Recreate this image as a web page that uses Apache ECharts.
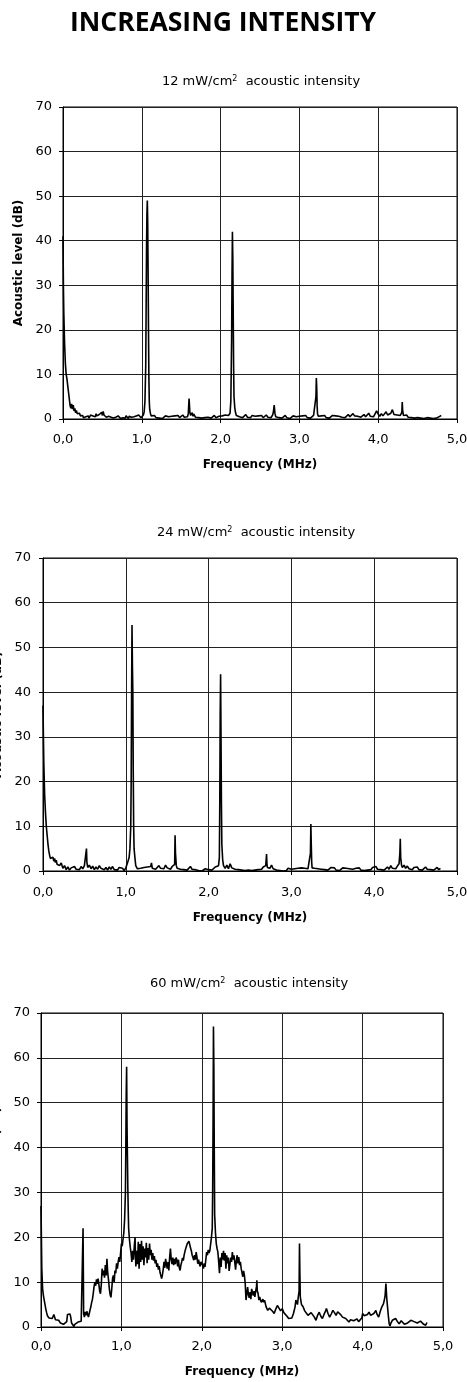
<!DOCTYPE html>
<html>
<head>
<meta charset="utf-8">
<script src="https://cdn.jsdelivr.net/npm/echarts@6/dist/echarts.min.js"></script>
<style>
html,body{margin:0;padding:0;background:#fff;}
#c{width:467px;height:1382px;}
</style>
</head>
<body>
<div id="c"></div>
<script>
// ---- DATA ----
const mainTitle = 'INCREASING INTENSITY';
const panelIntensity = ['12', '24', '60'];
const xTickLabels = ['0,0', '1,0', '2,0', '3,0', '4,0', '5,0'];
const yTicks = [0, 10, 20, 30, 40, 50, 60, 70];
const xAxisName = 'Frequency (MHz)';
const yAxisName = 'Acoustic level (dB)';

// [frequency MHz, acoustic level dB]
const spectrum12 = [
[0,41],[0.005,30],[0.01,24],[0.02,17],[0.03,12.5],[0.04,10],[0.05,9],[0.06,7.5],[0.07,6],[0.08,4.5],[0.09,3],[0.1,2.4],[0.11,3.4],[0.12,2.2],[0.13,3.1],[0.14,1.8],[0.15,2.4],[0.16,1.4],[0.17,1.9],[0.18,1.2],[0.19,1.6],[0.2,0.9],[0.21,1.3],[0.22,0.7],[0.23,0.9],[0.24,0.4],[0.25,0.8],[0.26,0.3],[0.27,0.6],[0.28,0.2],[0.29,0.5],[0.3,0.1],[0.31,0.4],[0.32,0.7],[0.33,0.2],[0.34,0.5],[0.35,0.9],[0.36,0.6],[0.37,1.1],[0.38,0.7],[0.39,0.4],[0.4,0.9],[0.41,0.5],[0.42,1.2],[0.43,0.7],[0.44,0.9],[0.45,0.4],[0.46,1.0],[0.47,0.6],[0.48,1.1],[0.49,1.5],[0.5,0.8],[0.51,1.7],[0.52,0.9],[0.53,0.6],[0.54,0.9],[0.55,0.4],[0.56,0.7],[0.57,0.2],[0.58,0.6],[0.59,0.3],[0.6,0.8],[0.61,0.4],[0.62,0.1],[0.63,0.5],[0.64,0.2],[0.65,0.6],[0.66,0.0],[0.67,0.4],[0.68,0.1],[0.69,0.5],[0.7,0.7],[0.71,0.3],[0.72,0.6],[0.73,0.1],[0.74,0.4],[0.75,0.0],[0.76,0.3],[0.77,0.1],[0.78,0.5],[0.79,0.2],[0.8,0.7],[0.81,0.3],[0.82,0.5],[0.83,0.1],[0.84,0.6],[0.85,0.3],[0.86,0.8],[0.87,0.4],[0.88,0.6],[0.89,0.2],[0.9,0.5],[0.91,0.8],[0.92,0.4],[0.93,0.7],[0.94,0.3],[0.95,0.6],[0.96,0.9],[0.97,0.5],[0.98,0.7],[0.99,0.3],[1.0,0.6],[1.01,0.4],[1.02,0.9],[1.03,1.6],[1.04,4],[1.05,12],[1.055,25],[1.06,38],[1.065,46],[1.07,49],[1.075,44],[1.08,33],[1.085,20],[1.09,9],[1.095,4],[1.1,2.2],[1.11,1.2],
[1.12,0.7],[1.14,0.4],[1.16,0.8],[1.18,0.3],[1.2,0.6],[1.22,0.2],[1.24,0.5],[1.26,0.1],[1.28,0.4],[1.3,0.7],[1.32,0.3],[1.34,0.5],[1.36,0.2],[1.38,0.6],[1.4,0.3],[1.42,0.7],[1.44,0.4],[1.46,0.8],[1.48,0.3],[1.5,0.6],[1.52,0.9],[1.54,0.4],[1.56,0.7],[1.58,0.5],[1.59,1.2],[1.6,4.6],[1.605,3],[1.61,1.5],[1.62,0.8],[1.64,1.4],[1.65,0.6],[1.66,1.1],[1.68,0.4],[1.7,0.7],[1.72,0.3],[1.74,0.6],[1.76,0.2],[1.78,0.5],[1.8,0.3],[1.82,0.7],[1.84,0.4],[1.86,0.6],[1.88,0.2],[1.9,0.5],[1.92,0.8],[1.94,0.3],[1.96,0.1],[1.98,0.6],[2.0,0.2],[2.02,0.7],[2.04,0.4],[2.06,0.9],[2.08,0.5],[2.1,0.8],[2.12,1.3],[2.13,4],[2.14,18],[2.145,32],[2.15,42],[2.155,36],[2.16,24],[2.165,12],[2.17,5],[2.18,2.5],[2.19,1.4],[2.2,0.8],[2.22,1.1],[2.24,0.5],[2.26,0.8],[2.28,0.3],[2.3,0.6],[2.32,1.0],[2.34,0.4],[2.36,0.7],[2.38,0.3],[2.4,0.8],[2.42,0.4],[2.44,0.6],[2.46,0.2],[2.48,0.7],[2.5,0.4],[2.52,0.8],[2.54,0.3],[2.56,0.5],[2.58,0.9],[2.6,0.4],[2.62,0.7],[2.64,0.3],[2.66,0.9],[2.67,1.6],[2.68,3.1],[2.69,1.2],[2.7,0.5],[2.72,0.8],[2.74,0.3],[2.76,0.6],[2.78,0.2],[2.8,0.5],[2.82,0.8],[2.84,0.3],[2.86,0.6],[2.88,0.1],[2.9,0.4],[2.92,0.7],[2.94,0.3],[2.96,0.5],[2.98,0.2],[3.0,0.6],[3.02,0.3],[3.04,0.7],[3.06,0.4],[3.08,0.8],[3.1,0.3],[3.12,0.6],[3.14,0.2],[3.16,0.5],[3.18,0.8],[3.2,1.2],[3.21,5],[3.215,9.2],[3.22,7],[3.225,3],[3.23,1.2],[3.24,0.6],[3.26,0.3],[3.28,0.7],[3.3,0.4],[3.32,0.8],[3.34,0.3],[3.36,0.6],[3.38,0.2],[3.4,0.5],[3.42,0.8],[3.44,0.4],[3.46,0.7],[3.48,0.3],[3.5,0.6],[3.52,0.9],[3.54,0.4],[3.56,0.7],[3.58,0.3],[3.6,0.6],[3.62,1.0],[3.64,0.5],[3.66,0.8],[3.68,1.2],[3.7,0.7],[3.72,1.1],[3.74,0.6],[3.76,0.9],[3.78,0.4],[3.8,0.7],[3.82,1.0],[3.84,0.5],[3.86,0.8],[3.88,1.3],[3.9,0.6],[3.92,1.0],[3.94,0.5],[3.96,0.9],[3.98,1.8],[4.0,1.1],[4.02,0.6],[4.04,1.2],[4.06,0.7],[4.08,1.0],[4.1,1.6],[4.12,0.9],[4.14,0.6],[4.16,1.3],[4.18,2.1],[4.2,1.0],[4.22,0.6],[4.24,0.9],[4.26,0.5],[4.28,0.8],[4.3,1.5],[4.305,3.8],[4.31,2],[4.32,0.8],[4.34,0.5],[4.36,0.9],[4.38,0.4],[4.4,0.7],[4.42,0.3],[4.44,0.6],[4.46,0.2],[4.48,0.5],[4.5,0.3],[4.52,0.6],[4.54,0.2],[4.56,0.4],[4.58,0.1],[4.6,0.5],[4.62,0.3],[4.64,0.6],[4.66,0.2],[4.68,0.4],[4.7,0.1],[4.72,0.5],[4.74,0.2],[4.76,0.4],[4.78,0.6],[4.8,0.8]
];

const spectrum24 = [
[0,37],[0.005,30],[0.01,24],[0.02,17],[0.03,13],[0.04,10],[0.05,8],[0.06,6],[0.07,4.5],[0.08,3.5],[0.09,2.8],[0.1,3.2],[0.11,2.4],[0.12,3.1],[0.13,2.2],[0.14,2.8],[0.15,1.9],[0.16,2.4],[0.17,1.5],[0.18,1.9],[0.2,1.2],[0.22,1.8],[0.24,0.6],[0.26,1.2],[0.28,0.3],[0.3,0.9],[0.32,0.2],[0.34,0.7],[0.36,0.3],[0.38,1.0],[0.4,0.4],[0.42,0.8],[0.44,0.3],[0.46,1.0],[0.48,0.5],[0.5,1.2],[0.52,1.4],[0.525,5],[0.53,2],[0.54,0.8],[0.56,1.3],[0.58,0.5],[0.6,1.1],[0.62,0.3],[0.64,0.9],[0.66,0.4],[0.68,1.2],[0.7,0.6],[0.72,1.0],[0.74,0.3],[0.76,0.8],[0.78,0.2],[0.8,0.9],[0.82,0.4],[0.84,1.0],[0.86,0.3],[0.88,0.7],[0.9,0.2],[0.92,0.8],[0.94,0.4],[0.96,0.6],[0.98,0.1],[1.0,0.7],[1.02,1.8],[1.04,3],[1.05,5],[1.06,10],[1.065,20],[1.07,40],[1.075,55],[1.08,46],[1.085,40],[1.09,22],[1.095,10],[1.1,5],[1.11,3],[1.12,1.2],[1.14,0.5],[1.16,0.2],[1.18,0.6],[1.2,0.3],[1.22,0.8],[1.24,0.4],[1.26,0.9],[1.28,0.5],[1.3,1.0],[1.31,1.8],[1.32,0.6],[1.34,0.9],[1.36,0.4],[1.38,0.7],[1.4,1.2],[1.42,0.6],[1.44,1.0],[1.46,0.5],[1.48,1.3],[1.5,0.7],[1.52,0.9],[1.54,0.4],[1.56,1.0],[1.58,0.6],[1.59,1.5],[1.595,8],[1.6,4],[1.61,1.2],[1.62,0.6],[1.64,0.9],[1.66,0.4],[1.68,0.8],[1.7,0.3],[1.72,0.7],[1.74,0.2],[1.76,0.6],[1.78,1.0],[1.8,0.4],[1.82,0.7],[1.84,0.3],[1.86,0.5],[1.88,0.1],[1.9,0.4],[1.92,0.0],[1.94,0.3],[1.96,0.5],[1.98,0.1],[2.0,0.3],[2.02,0.6],[2.04,0.2],[2.06,0.5],[2.08,0.9],[2.1,0.6],[2.12,1.2],[2.13,3],[2.135,15],[2.14,35],[2.145,44],[2.15,30],[2.155,15],[2.16,6],[2.17,2.5],[2.18,1.2],[2.2,0.6],[2.22,1.3],[2.24,0.5],[2.26,1.6],[2.28,0.7],[2.3,1.1],[2.32,0.4],[2.34,0.8],[2.36,0.3],[2.38,0.6],[2.4,0.2],[2.42,0.5],[2.44,0.1],[2.46,0.4],[2.48,0.2],[2.5,0.5],[2.52,0.1],[2.54,0.4],[2.56,0.2],[2.58,0.5],[2.6,0.3],[2.62,0.7],[2.64,0.4],[2.66,0.9],[2.68,0.5],[2.69,1.2],[2.7,3.8],[2.705,1.5],[2.71,0.8],[2.72,1.1],[2.74,0.6],[2.76,1.3],[2.78,0.5],[2.8,0.8],[2.82,0.2],[2.84,0.5],[2.86,0.1],[2.88,0.4],[2.9,0.0],[2.92,0.3],[2.94,0.1],[2.96,0.6],[2.98,0.2],[3.0,0.4],[3.02,0.1],[3.04,0.5],[3.06,0.2],[3.08,0.6],[3.1,0.3],[3.12,0.7],[3.14,0.4],[3.16,0.6],[3.18,0.2],[3.2,0.5],[3.22,0.8],[3.23,4],[3.235,10.5],[3.24,6],[3.245,2],[3.25,0.7],[3.26,0.3],[3.28,0.6],[3.3,0.2],[3.32,0.5],[3.34,0.1],[3.36,0.4],[3.38,0.7],[3.4,0.3],[3.42,0.6],[3.44,0.2],[3.46,0.5],[3.48,0.8],[3.5,0.4],[3.52,0.7],[3.54,0.2],[3.56,0.5],[3.58,0.1],[3.6,0.4],[3.62,0.7],[3.64,0.3],[3.66,0.6],[3.68,0.2],[3.7,0.5],[3.72,0.1],[3.74,0.4],[3.76,0.2],[3.78,0.6],[3.8,0.3],[3.82,0.7],[3.84,0.2],[3.86,0.5],[3.88,0.1],[3.9,0.4],[3.92,0.2],[3.94,0.6],[3.96,0.3],[3.98,0.8],[4.0,0.5],[4.02,1.0],[4.04,0.4],[4.06,0.8],[4.08,0.3],[4.1,0.6],[4.12,0.2],[4.14,0.5],[4.16,0.9],[4.18,0.4],[4.2,1.2],[4.22,0.6],[4.24,1.0],[4.26,0.5],[4.28,1.1],[4.3,1.6],[4.31,4],[4.315,7.2],[4.32,3],[4.33,1.3],[4.34,0.8],[4.36,1.3],[4.38,0.6],[4.4,1.1],[4.42,0.5],[4.44,0.9],[4.46,0.3],[4.48,0.8],[4.5,0.4],[4.52,0.9],[4.54,0.3],[4.56,0.7],[4.58,0.2],[4.6,0.6],[4.62,0.9],[4.64,0.4],[4.66,0.8],[4.68,0.3],[4.7,0.6],[4.72,0.2],[4.74,0.5],[4.76,0.8],[4.78,0.3],[4.8,0.6]
];

const spectrum60 = [
[0,27],[0.005,20],[0.01,13],[0.02,8.5],[0.03,7],[0.04,6],[0.05,5],[0.06,4],[0.07,3.2],[0.08,2.5],[0.09,2.2],[0.1,2],[0.12,1.7],[0.14,1.9],[0.15,1.5],[0.16,2.8],[0.17,2.2],[0.18,1.6],[0.2,1.2],[0.22,1.5],[0.24,0.9],[0.26,0.8],[0.28,0.6],[0.3,0.7],[0.32,1.2],[0.33,2.8],[0.34,3.1],[0.35,2.4],[0.36,2.9],[0.37,2.2],[0.38,0.9],[0.4,0.5],[0.41,0.1],[0.42,0.6],[0.44,0.4],[0.46,1.1],[0.48,0.9],[0.5,1.3],[0.51,1.0],[0.52,1.5],[0.523,22],[0.527,12],[0.53,3],[0.54,2.2],[0.55,3.4],[0.56,2.6],[0.57,3.5],[0.58,2.8],[0.59,2.2],[0.6,3],[0.61,3.8],[0.62,4.5],[0.63,5.5],[0.64,6.2],[0.65,7.5],[0.66,9],[0.67,10],[0.68,9.2],[0.69,10.6],[0.7,9.6],[0.71,10.8],[0.72,9.5],[0.73,8],[0.74,7.4],[0.75,9.5],[0.76,13],[0.77,11.5],[0.78,12.6],[0.79,11],[0.8,13.8],[0.81,11.5],[0.82,15.2],[0.83,12],[0.84,10.5],[0.85,8.5],[0.86,7.2],[0.87,6.6],[0.88,8.5],[0.89,10.8],[0.9,11.5],[0.91,10],[0.92,12.6],[0.93,12],[0.94,14.2],[0.95,13],[0.96,14.5],[0.97,15.6],[0.98,14.5],[0.99,16.5],[1.0,18.6],[1.01,18],[1.02,19.5],[1.03,21],[1.04,24],[1.05,30],[1.055,40],[1.06,52],[1.065,58],[1.07,45],[1.075,38],[1.08,31],[1.085,26],[1.09,22],[1.1,19.5],[1.11,17.8],[1.12,16.5],[1.13,14.5],[1.14,17],[1.15,15],[1.16,18],[1.17,20],[1.175,16],[1.18,13.5],[1.19,17],[1.2,14],[1.21,19],[1.22,13],[1.23,18.5],[1.24,14.5],[1.25,19.2],[1.26,15],[1.27,18],[1.28,13.8],[1.29,17.5],[1.3,15.5],[1.31,18.8],[1.32,14.2],[1.33,17.6],[1.34,15],[1.35,18.6],[1.36,16],[1.37,17.2],[1.38,15],[1.39,16.5],[1.4,14.8],[1.41,15.8],[1.42,14.2],[1.43,15],[1.44,13.4],[1.45,14.2],[1.46,12.8],[1.47,13.6],[1.48,12.2],[1.49,11.5],[1.5,10.8],[1.51,11.6],[1.52,12.8],[1.53,14.5],[1.54,13.2],[1.55,15.2],[1.56,14],[1.57,13],[1.58,14.5],[1.59,12.6],[1.6,15.5],[1.61,17.5],[1.62,15],[1.63,14],[1.64,15.5],[1.65,13.8],[1.66,15.2],[1.67,14],[1.68,15.5],[1.69,14.9],[1.7,13.5],[1.71,15],[1.72,13.2],[1.73,12.6],[1.74,13.8],[1.75,14.5],[1.76,15.4],[1.77,14.8],[1.78,16],[1.79,16.8],[1.8,17.5],[1.81,17.8],[1.82,18.6],[1.83,18.9],[1.84,19.1],[1.85,18.4],[1.86,17.6],[1.87,17],[1.88,16],[1.89,15.5],[1.9,14.9],[1.91,16],[1.92,15],[1.93,16.7],[1.94,15.5],[1.95,14.1],[1.96,15],[1.97,14.1],[1.98,13.5],[1.99,14.5],[2.0,14.5],[2.01,13.8],[2.02,13],[2.03,14.2],[2.04,13.4],[2.05,15],[2.06,16.7],[2.07,16],[2.08,17.2],[2.09,16.5],[2.1,17],[2.11,18.5],[2.12,20],[2.13,22],[2.135,30],[2.14,45],[2.145,67],[2.15,58],[2.155,40],[2.16,25],[2.17,21],[2.18,18.6],[2.19,17.5],[2.2,16.7],[2.21,14.5],[2.22,12],[2.23,15.5],[2.24,13.4],[2.25,16.5],[2.26,15],[2.27,17],[2.28,14.8],[2.29,16.5],[2.3,13],[2.31,16],[2.32,14.2],[2.33,15.5],[2.34,12.5],[2.35,14],[2.36,15.5],[2.37,14.5],[2.38,16.7],[2.39,15],[2.4,16],[2.41,14.5],[2.42,12.8],[2.43,14.8],[2.44,16],[2.45,14.2],[2.46,15.6],[2.47,13.8],[2.48,14.5],[2.49,13],[2.5,13.4],[2.51,11.2],[2.52,12.5],[2.53,11.5],[2.54,9.7],[2.55,6],[2.56,7.5],[2.57,8.9],[2.58,7.2],[2.59,6.5],[2.6,7.8],[2.61,6.2],[2.62,8.5],[2.63,8.2],[2.64,7],[2.65,8],[2.66,6.7],[2.67,8],[2.68,9],[2.685,10.4],[2.69,8],[2.7,7.5],[2.71,6],[2.72,6.7],[2.73,6],[2.74,5.5],[2.75,5.2],[2.76,6.2],[2.77,5.5],[2.78,6],[2.8,4.5],[2.82,3.7],[2.84,4.2],[2.86,4.5],[2.88,3.5],[2.9,3],[2.92,4],[2.94,4.8],[2.96,4.2],[2.98,3.6],[3.0,4.1],[3.02,3.2],[3.04,3],[3.06,2.4],[3.08,1.9],[3.1,1.5],[3.12,2],[3.14,3],[3.16,4.5],[3.17,6],[3.19,5],[3.2,6.7],[3.21,8],[3.215,18.6],[3.22,12],[3.225,6.7],[3.24,5],[3.26,4.5],[3.28,3.6],[3.3,3.3],[3.32,2.6],[3.34,2.2],[3.36,3.2],[3.38,3],[3.4,2.2],[3.42,1.5],[3.44,2.6],[3.46,3.3],[3.48,2.4],[3.5,1.9],[3.52,2.8],[3.54,3.6],[3.55,4.1],[3.57,3],[3.59,2.2],[3.61,2.9],[3.63,3.7],[3.65,3.2],[3.67,2.6],[3.69,3.4],[3.71,3.3],[3.73,2.7],[3.75,2.2],[3.77,2.5],[3.79,1.9],[3.81,1.5],[3.83,1.1],[3.85,1.6],[3.87,1.9],[3.89,1.4],[3.91,1.5],[3.93,1.8],[3.95,1.2],[3.97,1.1],[3.99,2],[4.0,3],[4.02,2.5],[4.04,2.2],[4.06,2.8],[4.08,3.3],[4.1,2.6],[4.12,2.2],[4.14,3],[4.165,3.7],[4.18,2.8],[4.2,2.2],[4.22,3.5],[4.24,4.5],[4.26,5.2],[4.27,6],[4.28,7],[4.29,9.7],[4.3,6.5],[4.31,4.5],[4.32,2.5],[4.33,0.8],[4.34,0.2],[4.35,0.8],[4.37,1.5],[4.39,1.2],[4.41,1.9],[4.43,1.3],[4.455,0.7],[4.48,1.4],[4.5,1.1],[4.52,0.6],[4.54,0.4],[4.56,0.9],[4.58,1.1],[4.6,1.5],[4.62,1.9],[4.64,1.2],[4.66,1.5],[4.68,0.9],[4.7,0.7],[4.72,1.3],[4.74,1.1],[4.76,0.6],[4.785,0.4],[4.8,1.0]
];

const spectra = [spectrum12, spectrum24, spectrum60];

// ---- LAYOUT / STYLE ----
const grids = [
  {left: 63, top: 107, width: 394, height: 312},
  {left: 43, top: 558, width: 414, height: 313},
  {left: 41, top: 1013, width: 402, height: 314}
];
const titlePos = [{x: 256, y: 70}, {x: 251, y: 521}, {x: 244, y: 972}];
const xNameGap = [40, 41, 39];
const xLabelMargin = [14, 15, 13];
const yNameGap = [35, 37, 37];
const yLabelMargin = [11, 12, 11];

const tickFont = 'DejaVu Sans';
const chart = echarts.init(document.getElementById('c'), null, {renderer: 'canvas'});

const titles = [{
  text: mainTitle, left: 218, top: 5, textAlign: 'center',
  textStyle: {fontFamily: 'Open Sans', fontWeight: 'bold', fontSize: 26.5, color: '#000'}
}];
panelIntensity.forEach((v, i) => {
  titles.push({
    text: v + ' mW/cm{s|2}  acoustic intensity',
    left: titlePos[i].x, top: titlePos[i].y, textAlign: 'center',
    textStyle: {
      fontFamily: tickFont, fontWeight: 'normal', fontSize: 13, color: '#000',
      rich: {s: {fontFamily: tickFont, fontSize: 8, verticalAlign: 'top', color: '#000'}}
    }
  });
});

const option = {
  animation: false,
  backgroundColor: '#fff',
  title: titles,
  grid: grids.map(g => Object.assign({show: true, borderColor: '#000', borderWidth: 1,
    backgroundColor: 'transparent', containLabel: false, outerBoundsMode: 'none'}, g)),
  xAxis: grids.map((g, i) => ({
    type: 'value', gridIndex: i, min: 0, max: 5, interval: 1,
    name: xAxisName, nameLocation: 'middle', nameGap: xNameGap[i],
    nameTextStyle: {fontFamily: tickFont, fontWeight: 'bold', fontSize: 12, color: '#000'},
    axisLine: {show: true, onZero: false, lineStyle: {color: '#000', width: 1}},
    axisTick: {show: true, length: 4, lineStyle: {color: '#000', width: 1}},
    axisLabel: {margin: xLabelMargin[i], fontFamily: tickFont, fontSize: 13, color: '#000',
      formatter: v => xTickLabels[Math.round(v)]},
    splitLine: {show: true, lineStyle: {color: '#222', width: 1}}
  })),
  yAxis: grids.map((g, i) => ({
    type: 'value', gridIndex: i, min: yTicks[0], max: yTicks[yTicks.length - 1], interval: 10,
    name: yAxisName, nameLocation: 'middle', nameGap: yNameGap[i],
    nameTextStyle: {fontFamily: tickFont, fontWeight: 'bold', fontSize: 12, color: '#000'},
    axisLine: {show: true, lineStyle: {color: '#000', width: 1}},
    axisTick: {show: true, length: 4, lineStyle: {color: '#000', width: 1}},
    axisLabel: {margin: yLabelMargin[i], fontFamily: tickFont, fontSize: 13, color: '#000'},
    splitLine: {show: true, lineStyle: {color: '#222', width: 1}}
  })),
  series: spectra.map((d, i) => ({
    type: 'line', xAxisIndex: i, yAxisIndex: i, data: d,
    showSymbol: false, symbol: 'none', silent: true, smooth: false,
    lineStyle: {color: '#000', width: 1.6}
  }))
};
chart.setOption(option);
</script>
</body>
</html>
